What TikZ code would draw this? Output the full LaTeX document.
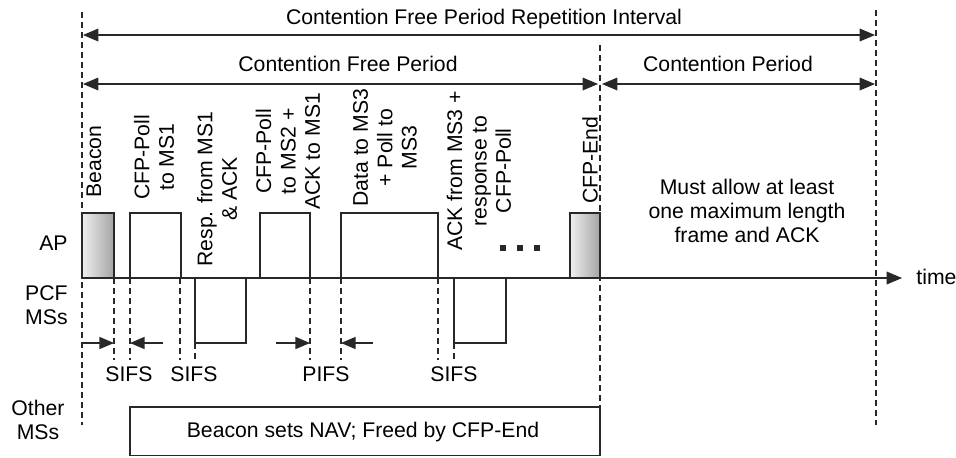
\documentclass[tikz,border=0pt]{standalone}
\usepackage{fontspec}
\setmainfont{Liberation Sans}
\usetikzlibrary{positioning,arrows,calc}
\newcommand{\figfont}{\fontsize{10.6}{12.2}\selectfont}
\definecolor{lineGray}{RGB}{40,40,40}
\tikzset{
  frame/.style={draw=lineGray, line width=0.65pt, fill=white},
  mgmt/.style={draw=lineGray, line width=0.65pt, left color=gray!12, right color=gray!72},
  guide/.style={draw=lineGray, line width=0.65pt, dash pattern=on 3pt off 2pt},
  span/.style={draw=lineGray, line width=0.75pt, triangle 45-triangle 45},
  ifs/.style={draw=lineGray, line width=0.65pt, -triangle 45},
  fname/.style={rotate=90, anchor=west, align=center, inner sep=0pt},
  lbl/.style={inner sep=0pt, align=center}
}

\begin{document}
\begin{tikzpicture}[x=0.5pt,y=-0.5pt,every node/.style={font=\figfont}]
  \useasboundingbox (0,0) rectangle (956,457);
  % period boundaries
  \coordinate (rep0) at (83,35);
  \coordinate (rep1) at (875,35);
  \coordinate (cfp0) at (83,84);
  \coordinate (cfp1) at (598,84);
  \coordinate (cp0) at (602,84);
  \coordinate (cp1) at (875,84);
  \coordinate (t0) at (82,278);
  \coordinate (tend) at (902,278);
  \draw[guide] (82,12) -- (82,425);
  \draw[guide] (600,45) -- (600,407);
  \draw[guide] (876,10) -- (876,425);
  \foreach \x in {114,130,180,310,341,438}
    \draw[guide] (\x,278) -- (\x,360);
  \foreach \x in {195,454}
    \draw[guide] (\x,343) -- (\x,360);
  \node[lbl] (rep) at (484,19) {Contention Free Period Repetition Interval};
  \node[lbl] (cfp) at (348,64) {Contention Free Period};
  \node[lbl] (cp) at (728,64) {Contention Period};
  \draw[span] (rep0) -- (rep1);
  \draw[span] (cfp0) -- (cfp1);
  \draw[span] (cp0) -- (cp1);
  % frames
  \draw[mgmt]  (82,213) rectangle (114,278);
  \draw[frame] (130,213) rectangle (181,278);
  \draw[frame] (195,278) rectangle (246,343);
  \draw[frame] (260,213) rectangle (310,278);
  \draw[frame] (341,213) rectangle (438,278);
  \draw[frame] (454,278) rectangle (506,343);
  \draw[mgmt]  (570,213) rectangle (600,278);
  \draw[draw=lineGray, line width=0.75pt, -triangle 45] (t0) -- (tend);
  \node[lbl, anchor=west] (time) at (916,277) {time};
  \node[fname] (beacon) at (94,198) {Beacon};
  \node[fname] (poll1) at (154,200) {CFP-Poll\\to MS1};
  \node[fname] (resp1) at (217,267) {Resp. from MS1\\\& ACK};
  \node[fname] (poll2) at (288,210) {CFP-Poll\\to MS2 +\\ACK to MS1};
  \node[fname] (data3) at (385,207) {Data to MS3\\+ Poll to\\MS3};
  \node[fname] (ack3) at (479,251) {ACK from MS3 +\\response to\\CFP-Poll};
  \node[fname] (cfpend) at (590,204) {CFP-End};
  \foreach \x in {503,520,537}
    \fill[lineGray] (\x-3,245) rectangle (\x+3,251);
  \node[lbl] (cpnote) at (747,211) {Must allow at least\\one maximum length\\frame and ACK};
  % station rows
  \node[lbl, anchor=east] (ap) at (68,243) {AP};
  \node[lbl, anchor=east, align=right] (pcf) at (68,305) {PCF\\MSs};
  \node[lbl] (other) at (38,420) {Other\\MSs};
  % interframe spaces
  \coordinate (g1a) at (82,343);
  \coordinate (g1b) at (114,343);
  \coordinate (g2a) at (163,343);
  \coordinate (g2b) at (130,343);
  \coordinate (g3a) at (276,343);
  \coordinate (g3b) at (310,343);
  \coordinate (g4a) at (373,343);
  \coordinate (g4b) at (341,343);
  \draw[ifs] (g1a) -- (g1b);
  \draw[ifs] (g2a) -- (g2b);
  \draw[ifs] (g3a) -- (g3b);
  \draw[ifs] (g4a) -- (g4b);
  \node[lbl] (sifs1) at (129,374) {SIFS};
  \node[lbl] (sifs2) at (194,374) {SIFS};
  \node[lbl] (pifs) at (326,374) {PIFS};
  \node[lbl] (sifs3) at (454,374) {SIFS};
  % NAV
  \draw[frame] (130,407) rectangle (600,455.5);
  \node[lbl] (nav) at (363,432) {Beacon sets NAV; Freed by CFP-End};
\end{tikzpicture}
\end{document}
